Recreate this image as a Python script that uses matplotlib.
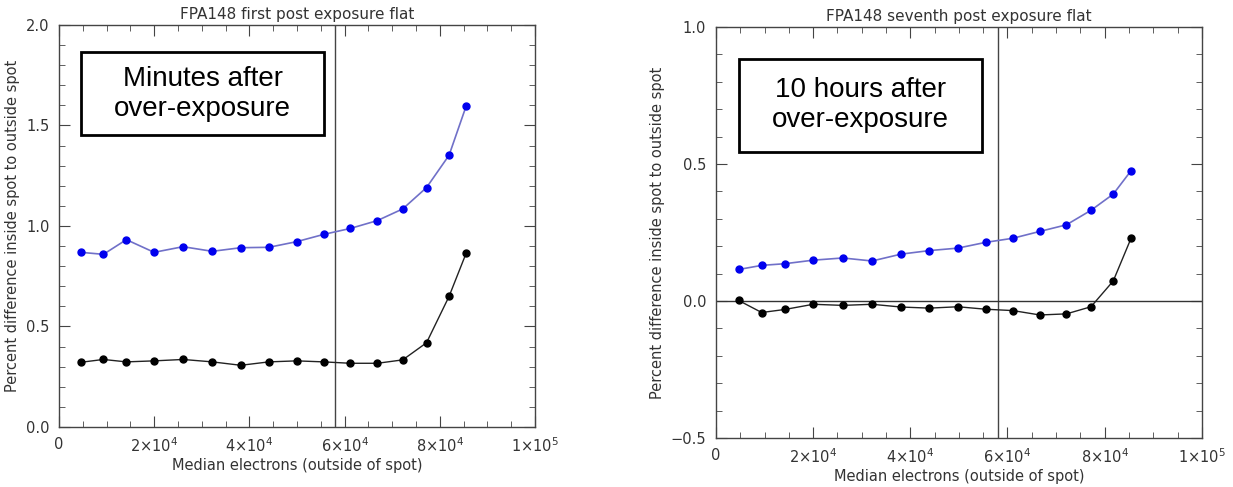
import matplotlib.pyplot as plt
from matplotlib.patches import Rectangle
from matplotlib.ticker import MultipleLocator, FuncFormatter

# median electrons outside the spot
x_first = [4576, 9318, 14143, 19967, 26040, 32196, 38186, 44093,
           49917, 55574, 61231, 66889, 72213, 77205, 81947, 85524]
blue_first = [0.869, 0.859, 0.932, 0.869, 0.897, 0.874, 0.892, 0.894,
              0.922, 0.958, 0.988, 1.027, 1.085, 1.191, 1.352, 1.596]
black_first = [0.322, 0.336, 0.324, 0.329, 0.336, 0.324, 0.307, 0.324,
               0.329, 0.324, 0.317, 0.317, 0.334, 0.419, 0.650, 0.864]

x_seventh = [4659, 9398, 14137, 20000, 26104, 32129, 38072, 43936,
             49799, 55502, 61124, 66667, 72129, 77189, 81767, 85462]
blue_seventh = [0.115, 0.130, 0.136, 0.149, 0.157, 0.146, 0.171, 0.184,
                0.193, 0.214, 0.229, 0.254, 0.278, 0.331, 0.390, 0.476]
black_seventh = [0.002, -0.042, -0.031, -0.012, -0.016, -0.012, -0.022, -0.026,
                 -0.021, -0.030, -0.035, -0.051, -0.047, -0.021, 0.073, 0.230]

vline_x = 58000
titles = ["FPA148 first post exposure flat", "FPA148 seventh post exposure flat"]
notes = ["Minutes after\nover-exposure", "10 hours after\nover-exposure"]
xticks = [0, 20000, 40000, 60000, 80000, 100000]
xtick_labels = ["0", r"2$\times$10$^4$", r"4$\times$10$^4$", r"6$\times$10$^4$",
                r"8$\times$10$^4$", r"1$\times$10$^5$"]

txt = "#333333"
fig = plt.figure(figsize=(12.33, 4.87), dpi=100)
ax1 = fig.add_axes([0.0479, 0.1232, 0.386, 0.8255])
ax2 = fig.add_axes([0.5807, 0.1006, 0.394, 0.844])


def yfmt(v, p):
    return ("%.1f" % v).replace("-", "\u2212")


def style(ax, ylim, title, note, box):
    ax.set_xlim(0, 100000)
    ax.set_ylim(*ylim)
    ax.set_xticks(xticks)
    ax.set_xticklabels(xtick_labels)
    ax.xaxis.set_minor_locator(MultipleLocator(5000))
    ax.yaxis.set_major_locator(MultipleLocator(0.5))
    ax.yaxis.set_minor_locator(MultipleLocator(0.1))
    ax.yaxis.set_major_formatter(FuncFormatter(yfmt))
    ax.tick_params(which="both", direction="in", top=True, right=True,
                   color="#444444", labelcolor=txt, labelsize=10.5)
    ax.tick_params(which="major", length=8, pad=7)
    ax.tick_params(which="minor", length=4)
    for s in ax.spines.values():
        s.set_color("#444444")
        s.set_linewidth(1.0)
    ax.set_title(title, fontsize=11, color=txt, pad=4)
    ax.set_xlabel("Median electrons (outside of spot)", fontsize=10.5, color=txt, labelpad=2)
    ax.set_ylabel("Percent difference inside spot to outside spot", fontsize=10.5,
                  color=txt, labelpad=4)
    ax.axvline(vline_x, color="#444444", lw=1.0)
    x0, y0, x1, y1 = box
    ax.add_patch(Rectangle((x0, y0), x1 - x0, y1 - y0, transform=ax.transAxes,
                           fc="white", ec="black", lw=2.0, zorder=5))
    ax.text((x0 + x1) / 2, (y0 + y1) / 2, note, transform=ax.transAxes,
            ha="center", va="center", fontsize=20, family="Liberation Sans",
            linespacing=1.2, zorder=6)


style(ax1, (0, 2.0), titles[0], notes[0], (0.046, 0.726, 0.557, 0.933))
ax1.plot(x_first, blue_first, color="#7070c8", lw=1.2, marker="o", ms=5,
         mfc="#0000ee", mec="#0000ee")
ax1.plot(x_first, black_first, color="#222222", lw=1.0, marker="o", ms=5,
         mfc="black", mec="black")

style(ax2, (-0.5, 1.0), titles[1], notes[1], (0.047, 0.696, 0.547, 0.922))
ax2.axhline(0, color="#333333", lw=1.0)
ax2.plot(x_seventh, blue_seventh, color="#7070c8", lw=1.2, marker="o", ms=5,
         mfc="#0000ee", mec="#0000ee")
ax2.plot(x_seventh, black_seventh, color="#222222", lw=1.0, marker="o", ms=5,
         mfc="black", mec="black")

fig.savefig("out.png", dpi=100)
